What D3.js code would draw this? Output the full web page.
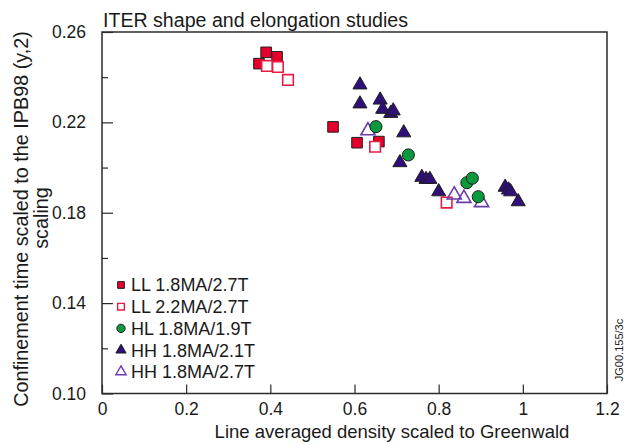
<!DOCTYPE html>
<html><head><meta charset="utf-8">
<script src="https://cdn.jsdelivr.net/npm/d3@7"></script>
<style>
html,body{margin:0;padding:0;background:#fff;}
text{font-family:"Liberation Sans",Arial,sans-serif;fill:#1a1a1a;}
</style></head>
<body><svg id="c" width="635" height="445"></svg>
<script>
// ---- data ----
const llA_x = [0.390, 0.416, 0.373, 0.549, 0.606, 0.658];
const llA_y = [0.251, 0.249, 0.246, 0.218, 0.211, 0.2115];
const llB_x = [0.392, 0.418, 0.442, 0.649, 0.819];
const llB_y = [0.245, 0.2445, 0.2388, 0.2092, 0.1845];
const hhA_x = [0.613, 0.613, 0.661, 0.667, 0.686, 0.692, 0.717, 0.708, 0.760, 0.770, 0.779, 0.800, 0.958, 0.966, 0.971, 0.989];
const hhA_y = [0.2366, 0.2282, 0.2299, 0.2258, 0.2240, 0.2251, 0.2154, 0.2022, 0.1957, 0.1948, 0.1948, 0.1893, 0.1913, 0.1901, 0.1893, 0.1849];
const hhB_x = [0.632, 0.837, 0.860, 0.902];
const hhB_y = [0.2163, 0.1879, 0.1864, 0.1845];
const hl_x = [0.651, 0.728, 0.867, 0.880, 0.894];
const hl_y = [0.2181, 0.2056, 0.1933, 0.1953, 0.1871];
const seriesNames = ["LL 1.8MA/2.7T", "LL 2.2MA/2.7T", "HL 1.8MA/1.9T", "HH 1.8MA/2.1T", "HH 1.8MA/2.7T"];
const xTicks = [0, 0.2, 0.4, 0.6, 0.8, 1.0, 1.2];
const xTickLabels = ["0", "0.2", "0.4", "0.6", "0.8", "1", "1.2"];
const yTicks = [0.10, 0.14, 0.18, 0.22, 0.26];
const yMinorTicks = [0.12, 0.16, 0.20, 0.24];
const titleText = "ITER shape and elongation studies";
const xTitle = "Line averaged density scaled to Greenwald";
const yTitle1 = "Confinement time scaled to the IPB98 (y,2)";
const yTitle2 = "scaling";
const stampText = "JG00.155/3c";

// ---- layout ----
const L = 102, R = 607, T = 32, B = 393.5;
const svg = d3.select("#c");
const x = d3.scaleLinear().domain([0, 1.2]).range([L, R]);
const y = d3.scaleLinear().domain([0.10, 0.26]).range([B, T]);
const axisCol = "#2b2b2b";

// ticks (inward)
const gx = svg.append("g").attr("transform", `translate(0,${B})`)
  .call(d3.axisBottom(x).tickValues(xTicks).tickSizeInner(-9).tickSizeOuter(0)
    .tickFormat((d, i) => xTickLabels[i]).tickPadding(9));
gx.select(".domain").remove();
gx.selectAll(".tick line").attr("stroke", axisCol).attr("stroke-width", 1.2);
gx.selectAll(".tick text").attr("font-size", 17.5).attr("dy", "0.71em")
  .attr("font-family", "Liberation Sans, Arial, sans-serif").attr("fill", "#1a1a1a");

const gy = svg.append("g").attr("transform", `translate(${L},0)`)
  .call(d3.axisLeft(y).tickValues(yTicks).tickSizeInner(-11).tickSizeOuter(0)
    .tickFormat(d3.format(".2f")).tickPadding(16));
gy.select(".domain").remove();
gy.selectAll(".tick line").attr("stroke", axisCol).attr("stroke-width", 1.2);
gy.selectAll(".tick text").attr("font-size", 17.5)
  .attr("font-family", "Liberation Sans, Arial, sans-serif").attr("fill", "#1a1a1a");

const gym = svg.append("g").attr("transform", `translate(${L},0)`)
  .call(d3.axisLeft(y).tickValues(yMinorTicks).tickSizeInner(-6).tickSizeOuter(0).tickFormat(""));
gym.select(".domain").remove();
gym.selectAll(".tick line").attr("stroke", axisCol).attr("stroke-width", 1.2);

// frame
svg.append("rect").attr("x", L).attr("y", T).attr("width", R - L).attr("height", B - T)
  .attr("fill", "none").attr("stroke", axisCol).attr("stroke-width", 1.5);

// ---- markers ----
const red = "#e3002b", redOpen = "#e61c45", green = "#0a9a3d", purple = "#300f78", purpleOpen = "#6a3cab", outline = "#1e1e1e";
const sq = d3.symbol().type(d3.symbolSquare).size(112)();
const tri = d3.symbol().type(d3.symbolTriangle).size(86)();
const circ = d3.symbol().type(d3.symbolCircle).size(115)();

function plot(xs, ys, path, fill, stroke, sw) {
  svg.append("g").selectAll("path").data(xs.map((v, i) => [v, ys[i]])).join("path")
    .attr("d", path).attr("transform", d => `translate(${x(d[0])},${y(d[1])})`)
    .attr("fill", fill).attr("stroke", stroke).attr("stroke-width", sw);
}
plot(llA_x, llA_y, sq, red, outline, 1);
plot(llB_x, llB_y, sq, "#fff", redOpen, 1.6);
plot(hhA_x, hhA_y, tri, purple, outline, 1);
plot(hhB_x, hhB_y, tri, "none", purpleOpen, 1.6);
plot(hl_x, hl_y, circ, green, outline, 1);

// ---- legend ----
const legSyms = [
  {p: d3.symbol().type(d3.symbolSquare).size(45)(), f: red, s: outline, w: 1},
  {p: d3.symbol().type(d3.symbolSquare).size(45)(), f: "#fff", s: redOpen, w: 1.4},
  {p: d3.symbol().type(d3.symbolCircle).size(55)(), f: green, s: outline, w: 1},
  {p: d3.symbol().type(d3.symbolTriangle).size(45)(), f: purple, s: outline, w: 1},
  {p: d3.symbol().type(d3.symbolTriangle).size(45)(), f: "none", s: purpleOpen, w: 1.4}
];
const leg = svg.append("g");
seriesNames.forEach((n, i) => {
  const yy = 285 + i * 21.7;
  leg.append("path").attr("d", legSyms[i].p).attr("transform", `translate(121,${yy})`)
    .attr("fill", legSyms[i].f).attr("stroke", legSyms[i].s).attr("stroke-width", legSyms[i].w);
  leg.append("text").attr("x", 131).attr("y", yy).attr("dy", "0.36em").attr("font-size", 18).text(n);
});

// ---- titles ----
svg.append("text").attr("x", 103).attr("y", 27).attr("font-size", 19.6).text(titleText);
svg.append("text").attr("x", 392).attr("y", 438).attr("text-anchor", "middle").attr("font-size", 18.5).text(xTitle);
svg.append("text").attr("transform", "translate(28,219) rotate(-90)").attr("text-anchor", "middle")
  .attr("font-size", 19.8).text(yTitle1);
svg.append("text").attr("transform", "translate(48,218) rotate(-90)").attr("text-anchor", "middle")
  .attr("font-size", 19.8).text(yTitle2);
svg.append("text").attr("transform", "translate(623,350) rotate(-90)").attr("text-anchor", "middle")
  .attr("font-size", 11).text(stampText);
</script></body></html>
